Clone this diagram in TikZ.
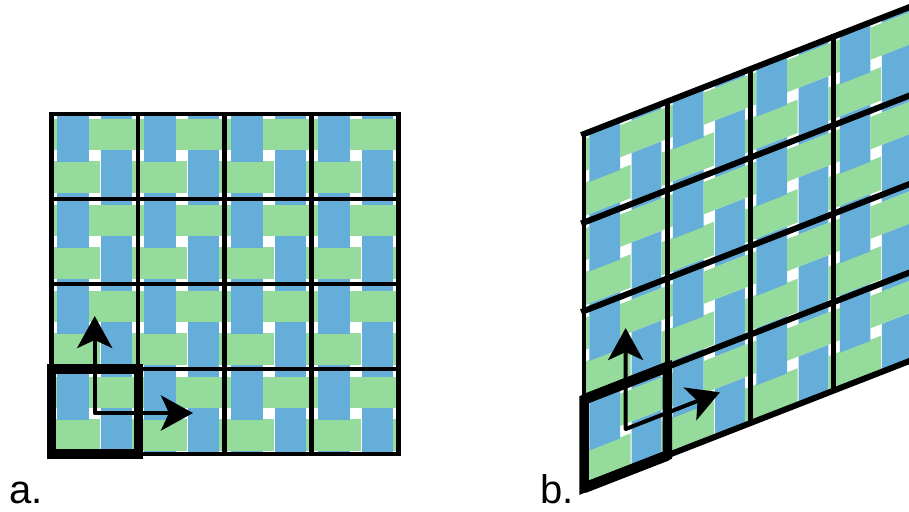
\documentclass[tikz,border=0pt]{standalone}
\usepackage{fontspec}
\setmainfont{Liberation Sans}
\usetikzlibrary{arrows.meta}
\definecolor{weaveblue}{RGB}{102,174,218}
\definecolor{weavegreen}{RGB}{149,219,155}

% one panel: the weave, its grid, the thick unit cell and the two axes
\newcommand{\weavepanel}[4]{
    \begin{scope}[cm={#2}]
      \begin{scope}
        \clip (0,0) rectangle (346.8,340);
        \foreach \i in {-1,...,4} {
          \foreach \j in {-1,...,4} {
            \begin{scope}[shift={(87*\i,86*\j)}]
              \fill[warp] (5.7,-7) rectangle (37.7,48);
              \fill[warp] (49.7,36) rectangle (80.7,91);
              \fill[weft] (37.7,5) rectangle (92.7,36);
              \fill[weft] (80.7,47) rectangle (135.7,79);
            \end{scope}
          }
        }
      \end{scope}
      \foreach \i in {0,...,4} {
        \draw[grid line] (86.7*\i,0) -- (86.7*\i,340);
        \draw[grid line, line width=#3] (0,85*\i) -- (346.8,85*\i);
      }
      \draw[unit cell] (0,255) rectangle (87,340);
      \draw[unit cell, line width=#4] (0,255) -- (87,255) (0,340) -- (87,340);
      \coordinate (#1up) at (43.4,202);
      \coordinate (#1o) at (43.4,299);
      \coordinate (#1right) at (141.7,299);
    \end{scope}
    \draw[axes] (#1up) -- (#1o) -- (#1right);
}

\begin{document}
\begin{tikzpicture}[
    x=1pt, y=-1pt,
    warp/.style={fill=weaveblue},
    weft/.style={fill=weavegreen},
    grid line/.style={draw=black, line width=4.8pt, line cap=rect},
    unit cell/.style={draw=black, line width=9.5pt, miter limit=10},
    axes/.style={{Stealth[length=32pt,width=35pt,inset=8pt]}-{Stealth[length=32pt,width=35pt,inset=8pt]}, line width=4pt, line join=round},
    panel label/.style={anchor=base west, inner sep=0pt, font=\fontsize{40}{44}\selectfont}
  ]
    \clip (0,0) rectangle (909,511);
    \weavepanel{a}{1,0,0,1,(51.3,114)}{4.8pt}{9.5pt}
    \weavepanel{b}{.959,.374,0,1.041,(584,134)}{6pt}{10.5pt}
    \node[panel label] (labela) at (9,503) {a.};
    \node[panel label] (labelb) at (540.5,503) {b.};
  \end{tikzpicture}
\end{document}
